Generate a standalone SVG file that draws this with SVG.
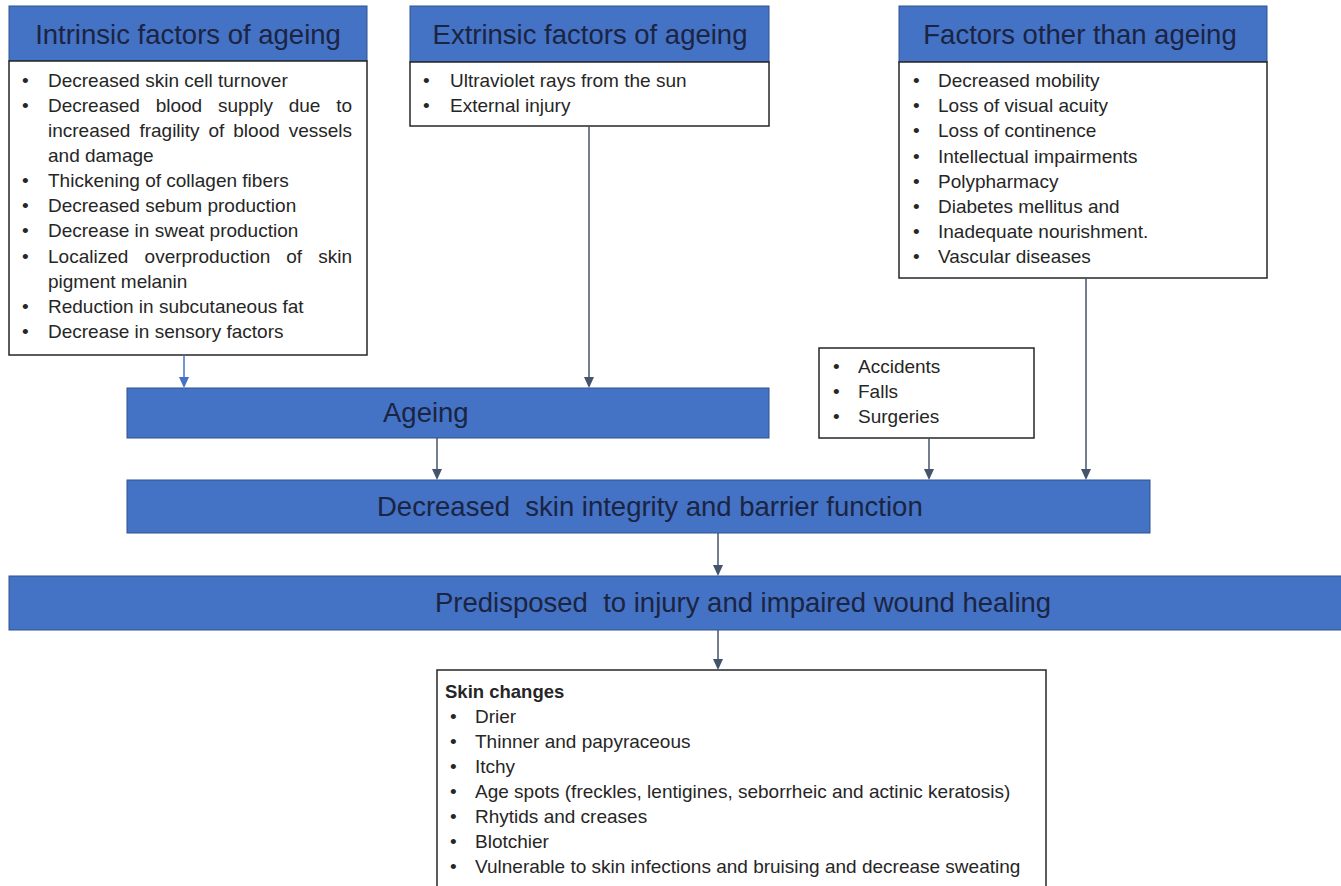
<svg xmlns="http://www.w3.org/2000/svg" width="1341" height="886" viewBox="0 0 1341 886">
<defs>
<style>
.hdr{fill:#4472C4;stroke:#2F528F;stroke-width:1}
.body{fill:#ffffff;stroke:#262626;stroke-width:1.5}
.ht{font-family:"Liberation Sans",Arial,sans-serif;font-size:27.5px;fill:#1b2442}
.bt{font-family:"Liberation Sans",Arial,sans-serif;font-size:19px;fill:#262626}
.bb{font-family:"Liberation Sans",Arial,sans-serif;font-size:18.5px;fill:#262626;font-weight:bold}
.c{fill:none;stroke:#44546A;stroke-width:1.5}
.cb{fill:none;stroke:#4472C4;stroke-width:1.5}
</style>
</defs>
<rect width="1341" height="886" fill="#ffffff"/>

<g id="intrinsic">
<rect class="hdr" x="9" y="6" width="358" height="55"/>
<rect class="body" x="9" y="61" width="358" height="294"/>
<text class="ht" x="188" y="44" text-anchor="middle">Intrinsic factors of ageing</text>
<g class="bt">
<text x="22" y="87">•</text><text x="48" y="87">Decreased skin cell turnover</text>
<text x="22" y="112">•</text><text y="112"><tspan x="48">Decreased</tspan><tspan x="155.7">blood</tspan><tspan x="218">supply</tspan><tspan x="288.7">due</tspan><tspan x="336.2">to</tspan></text>
<text y="137"><tspan x="48">increased</tspan><tspan x="139.4">fragility</tspan><tspan x="208.5">of</tspan><tspan x="233.3">blood</tspan><tspan x="288.7">vessels</tspan></text>
<text x="48" y="162">and damage</text>
<text x="22" y="187">•</text><text x="48" y="187">Thickening of collagen fibers</text>
<text x="22" y="212">•</text><text x="48" y="212">Decreased sebum production</text>
<text x="22" y="237">•</text><text x="48" y="237">Decrease in sweat production</text>
<text x="22" y="263">•</text><text y="263"><tspan x="48">Localized</tspan><tspan x="144.6">overproduction</tspan><tspan x="286.2">of</tspan><tspan x="318.3">skin</tspan></text>
<text x="48" y="288">pigment melanin</text>
<text x="22" y="313">•</text><text x="48" y="313">Reduction in subcutaneous fat</text>
<text x="22" y="338">•</text><text x="48" y="338">Decrease in sensory factors</text>
</g>
</g>

<g id="extrinsic">
<rect class="hdr" x="410" y="6" width="359" height="56"/>
<rect class="body" x="410" y="62" width="359" height="64"/>
<text class="ht" x="590" y="44" text-anchor="middle">Extrinsic factors of ageing</text>
<g class="bt">
<text x="423" y="87">•</text><text x="450" y="87">Ultraviolet rays from the sun</text>
<text x="423" y="112">•</text><text x="450" y="112">External injury</text>
</g>
</g>

<g id="other">
<rect class="hdr" x="899" y="6" width="368" height="56"/>
<rect class="body" x="899" y="62" width="368" height="216"/>
<text class="ht" x="1080" y="44" text-anchor="middle">Factors other than ageing</text>
<g class="bt">
<text x="913" y="87">•</text><text x="938" y="87">Decreased mobility</text>
<text x="913" y="112">•</text><text x="938" y="112">Loss of visual acuity</text>
<text x="913" y="137">•</text><text x="938" y="137">Loss of continence</text>
<text x="913" y="163">•</text><text x="938" y="163">Intellectual impairments</text>
<text x="913" y="188">•</text><text x="938" y="188">Polypharmacy</text>
<text x="913" y="213">•</text><text x="938" y="213">Diabetes mellitus and</text>
<text x="913" y="238">•</text><text x="938" y="238">Inadequate nourishment.</text>
<text x="913" y="263">•</text><text x="938" y="263">Vascular diseases</text>
</g>
</g>

<g id="accidents">
<rect class="body" x="819" y="348" width="215" height="90"/>
<g class="bt">
<text x="833" y="373">•</text><text x="858" y="373">Accidents</text>
<text x="833" y="398">•</text><text x="858" y="398">Falls</text>
<text x="833" y="423">•</text><text x="858" y="423">Surgeries</text>
</g>
</g>

<g id="ageing">
<rect class="hdr" x="127" y="388" width="642" height="50"/>
<text class="ht" x="383" y="422">Ageing</text>
</g>

<g id="decreased">
<rect class="hdr" x="127" y="480" width="1023" height="53"/>
<text class="ht" x="377" y="516" xml:space="preserve">Decreased  skin integrity and barrier function</text>
</g>

<g id="predisposed">
<rect class="hdr" x="9" y="576" width="1340" height="54"/>
<text class="ht" x="435" y="612" xml:space="preserve">Predisposed  to injury and impaired wound healing</text>
</g>

<g id="skin">
<rect class="body" x="437" y="670" width="609" height="230"/>
<text class="bb" x="445" y="698">Skin changes</text>
<g class="bt">
<text x="450" y="723">•</text><text x="475" y="723">Drier</text>
<text x="450" y="748">•</text><text x="475" y="748">Thinner and papyraceous</text>
<text x="450" y="773">•</text><text x="475" y="773">Itchy</text>
<text x="450" y="798">•</text><text x="475" y="798">Age spots (freckles, lentigines, seborrheic and actinic keratosis)</text>
<text x="450" y="823">•</text><text x="475" y="823">Rhytids and creases</text>
<text x="450" y="848">•</text><text x="475" y="848">Blotchier</text>
<text x="450" y="873">•</text><text x="475" y="873">Vulnerable to skin infections and bruising and decrease sweating</text>
</g>
</g>

<g id="connectors">
<line class="cb" x1="184" y1="355" x2="184" y2="378"/>
<path d="M179,377 L189,377 L184,388 Z" fill="#4472C4"/>
<line class="c" x1="589" y1="126" x2="589" y2="378"/>
<path d="M584,377 L594,377 L589,388 Z" fill="#44546A"/>
<line class="c" x1="437" y1="438" x2="437" y2="470"/>
<path d="M432,469 L442,469 L437,480 Z" fill="#44546A"/>
<line class="c" x1="929" y1="438" x2="929" y2="470"/>
<path d="M924,469 L934,469 L929,480 Z" fill="#44546A"/>
<line class="c" x1="1086" y1="278" x2="1086" y2="470"/>
<path d="M1081,469 L1091,469 L1086,480 Z" fill="#44546A"/>
<line class="c" x1="718" y1="533" x2="718" y2="566"/>
<path d="M713,565 L723,565 L718,576 Z" fill="#44546A"/>
<line class="c" x1="718" y1="630" x2="718" y2="660"/>
<path d="M713,659 L723,659 L718,670 Z" fill="#44546A"/>
</g>
</svg>
